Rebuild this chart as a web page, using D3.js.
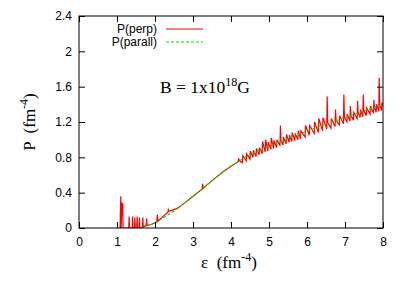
<!DOCTYPE html>
<html>
<head>
<meta charset="utf-8">
<script src="https://cdn.jsdelivr.net/npm/d3@7"></script>
<style>
  body { margin: 0; background: #fff; }
  .tick text { font-family: "Liberation Sans", Arial, sans-serif; font-size: 12px; fill: #000; }
</style>
</head>
<body>
<div class="chart"></div>
<script>
var svgWidth = 403;
var svgHeight = 283;

var margin = { top: 16, right: 20, bottom: 55, left: 79 };
var width = svgWidth - margin.left - margin.right;
var height = svgHeight - margin.top - margin.bottom;

var xTicks = [0, 1, 2, 3, 4, 5, 6, 7, 8];
var yTicks = [0, 0.4, 0.8, 1.2, 1.6, 2, 2.4];

// P(parall): smooth curve
var parE = [1.62, 1.8, 2.0, 2.2, 2.4, 2.6, 2.8, 3.0, 3.2, 3.4, 3.6, 3.8, 4.0, 4.2, 4.4, 4.6, 4.8, 5.0, 5.2, 5.4, 5.6, 5.8, 6.0, 6.2, 6.4, 6.6, 6.8, 7.0, 7.2, 7.4, 7.6, 7.8, 8.0];
var parP = [0.0, 0.025, 0.06, 0.11, 0.165, 0.225, 0.29, 0.36, 0.43, 0.50, 0.57, 0.64, 0.70, 0.755, 0.81, 0.85, 0.89, 0.93, 0.965, 0.995, 1.03, 1.06, 1.10, 1.13, 1.16, 1.19, 1.22, 1.25, 1.28, 1.31, 1.34, 1.37, 1.40];

// P(perp): spiky sawtooth
var perpE = [
  1.08, 1.10, 1.11, 1.13, 1.15, 1.16, 1.31, 1.32, 1.33, 1.40, 1.41, 1.42, 1.46, 1.47, 1.48,
  1.52, 1.53, 1.54, 1.58, 1.59, 1.60, 1.67, 1.68, 1.69, 1.77, 1.78, 1.79, 1.90, 2.05, 2.06,
  2.08, 2.34, 2.35, 2.37, 2.6, 2.8, 3.0, 3.24, 3.25, 3.27, 3.4, 3.6, 3.8, 4.0, 4.19, 4.20, 4.22,
  4.30, 4.31, 4.40, 4.41, 4.50, 4.51, 4.58, 4.59, 4.66, 4.67, 4.74, 4.75, 4.82, 4.83, 4.90, 4.91,
  4.97, 4.98, 5.05, 5.06, 5.12, 5.13, 5.20, 5.21, 5.29, 5.30, 5.315, 5.37, 5.38, 5.45, 5.46,
  5.53, 5.54, 5.60, 5.61, 5.68, 5.69, 5.76, 5.77, 5.83, 5.84, 5.95, 5.96, 6.06, 6.07, 6.19, 6.20,
  6.30, 6.31, 6.41, 6.42, 6.52, 6.53, 6.545, 6.63, 6.64, 6.74, 6.75, 6.765, 6.85, 6.86, 6.96, 6.97,
  6.985, 7.05, 7.06, 7.13, 7.14, 7.155, 7.22, 7.23, 7.32, 7.33, 7.345, 7.40, 7.41, 7.47, 7.48, 7.495,
  7.56, 7.57, 7.66, 7.67, 7.75, 7.76, 7.775, 7.82, 7.83, 7.89, 7.90, 7.915, 7.96, 7.97, 8.05
];
var perpP = [
  0.0, 0.36, 0.0, 0.28, 0.27, 0.0, 0.0, 0.13, 0.0, 0.0, 0.13, 0.0, 0.0, 0.12, 0.0,
  0.0, 0.13, 0.0, 0.0, 0.12, 0.0, 0.01, 0.12, 0.01, 0.03, 0.11, 0.03, 0.04, 0.07, 0.15,
  0.08, 0.18, 0.21, 0.19, 0.225, 0.29, 0.36, 0.44, 0.50, 0.45, 0.50, 0.57, 0.64, 0.70, 0.75, 0.79, 0.76,
  0.74, 0.82, 0.76, 0.84, 0.78, 0.87, 0.80, 0.88, 0.81, 0.90, 0.83, 0.91, 0.84, 0.98, 0.86, 1.00,
  0.87, 0.97, 0.89, 1.02, 0.90, 0.99, 0.91, 1.00, 0.93, 1.16, 0.99, 0.94, 1.03, 0.95, 1.06,
  0.97, 1.05, 0.98, 1.08, 0.99, 1.07, 1.00, 1.10, 1.01, 1.10, 1.03, 1.16, 1.05, 1.16, 1.07, 1.20,
  1.08, 1.24, 1.10, 1.25, 1.12, 1.49, 1.19, 1.13, 1.24, 1.15, 1.34, 1.22, 1.17, 1.27, 1.18, 1.51,
  1.25, 1.20, 1.29, 1.21, 1.38, 1.28, 1.22, 1.31, 1.24, 1.44, 1.31, 1.25, 1.34, 1.26, 1.51, 1.33,
  1.27, 1.36, 1.29, 1.38, 1.30, 1.45, 1.37, 1.31, 1.40, 1.32, 1.70, 1.39, 1.33, 1.42, 1.35
];

var parall = parE.map(function(e, i) { return { x: e, y: parP[i] }; });
var perp = perpE.map(function(e, i) { return { x: e, y: perpP[i] }; });

var svg = d3.select(".chart")
    .append("svg")
    .attr("width", svgWidth)
    .attr("height", svgHeight)
    .style("display", "block");

var chart = svg.append("g")
    .attr("transform", "translate(" + margin.left + "," + margin.top + ")");

var xScale = d3.scaleLinear().domain([0, 8]).range([0, width]);
var yScale = d3.scaleLinear().domain([0, 2.4]).range([height, 0]);

// axes, gnuplot style: inward ticks, mirrored
var bottomAxis = d3.axisBottom(xScale).tickValues(xTicks).tickFormat(d3.format("d"))
    .tickSizeInner(-6).tickSizeOuter(0).tickPadding(9);
var leftAxis = d3.axisLeft(yScale).tickValues(yTicks).tickFormat(function(d) { return d; })
    .tickSizeInner(-6).tickSizeOuter(0).tickPadding(7);
var topAxis = d3.axisTop(xScale).tickValues(xTicks).tickFormat("").tickSizeInner(-6).tickSizeOuter(0);
var rightAxis = d3.axisRight(yScale).tickValues(yTicks).tickFormat("").tickSizeInner(-6).tickSizeOuter(0);

chart.append("defs").append("clipPath").attr("id", "clip")
    .append("rect").attr("width", width).attr("height", height);

var lines = chart.append("g").attr("clip-path", "url(#clip)");

var perpLine = d3.line()
    .x(function(d) { return xScale(d.x); })
    .y(function(d) { return yScale(d.y); });

var parLine = d3.line()
    .curve(d3.curveMonotoneX)
    .x(function(d) { return xScale(d.x); })
    .y(function(d) { return yScale(d.y); });

lines.append("path")
    .datum(perp)
    .attr("d", perpLine)
    .attr("fill", "none")
    .attr("stroke", "#ff0000")
    .attr("stroke-width", 1.2);

lines.append("path")
    .datum(parall)
    .attr("d", parLine)
    .attr("fill", "none")
    .attr("stroke", "#00e000")
    .attr("stroke-width", 1.1)
    .attr("stroke-dasharray", "3,2");

[[bottomAxis, "translate(0," + height + ")"], [leftAxis, null], [topAxis, null], [rightAxis, "translate(" + width + ",0)"]]
    .forEach(function(a) {
        var g = chart.append("g").call(a[0]);
        if (a[1]) g.attr("transform", a[1]);
        g.select(".domain").remove();
        g.selectAll("line").attr("stroke", "#000");
    });

chart.append("rect")
    .attr("width", width)
    .attr("height", height)
    .attr("fill", "none")
    .attr("stroke", "#000")
    .attr("stroke-width", 1);

// legend
var legend = chart.append("g").attr("font-family", "Liberation Sans, Arial, sans-serif").attr("font-size", 12);
legend.append("text").attr("x", 157 - margin.left).attr("y", 33 - margin.top)
    .attr("text-anchor", "end").text("P(perp)");
legend.append("text").attr("x", 157 - margin.left).attr("y", 46 - margin.top)
    .attr("text-anchor", "end").text("P(parall)");
legend.append("line").attr("x1", 166 - margin.left).attr("x2", 203 - margin.left)
    .attr("y1", 29 - margin.top).attr("y2", 29 - margin.top)
    .attr("stroke", "#ff0000").attr("stroke-width", 1.2);
legend.append("line").attr("x1", 166 - margin.left).attr("x2", 203 - margin.left)
    .attr("y1", 42 - margin.top).attr("y2", 42 - margin.top)
    .attr("stroke", "#00e000").attr("stroke-width", 1.1).attr("stroke-dasharray", "3,2");

// field label
var bText = chart.append("text")
    .attr("x", 160 - margin.left).attr("y", 93 - margin.top)
    .attr("font-family", "Liberation Serif, Times New Roman, serif")
    .attr("font-size", 17.5)
    .attr("xml:space", "preserve");
bText.append("tspan").text("B = 1x10");
bText.append("tspan").attr("dy", -7).attr("font-size", 12).text("18");
bText.append("tspan").attr("dy", 7).text("G");

// axis titles
var xTitle = svg.append("text")
    .attr("x", 229).attr("y", 268)
    .attr("text-anchor", "middle")
    .attr("font-family", "Liberation Serif, Times New Roman, serif")
    .attr("font-size", 17)
    .attr("xml:space", "preserve");
xTitle.append("tspan").text("\u03b5  (fm");
xTitle.append("tspan").attr("dy", -7).attr("font-size", 12).text("-4");
xTitle.append("tspan").attr("dy", 7).text(")");

var yTitle = svg.append("text")
    .attr("transform", "translate(35,122) rotate(-90)")
    .attr("text-anchor", "middle")
    .attr("font-family", "Liberation Serif, Times New Roman, serif")
    .attr("font-size", 17)
    .attr("xml:space", "preserve");
yTitle.append("tspan").text("P  (fm");
yTitle.append("tspan").attr("dy", -7).attr("font-size", 12).text("-4");
yTitle.append("tspan").attr("dy", 7).text(")");
</script>
</body>
</html>
